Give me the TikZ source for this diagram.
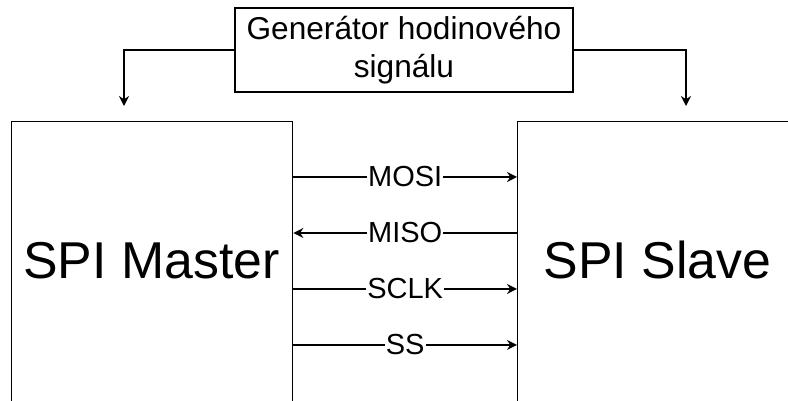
\documentclass[tikz,border=0pt]{standalone}
\usepackage{fontspec}
\setmainfont{Liberation Sans}
\usetikzlibrary{arrows.meta,positioning}
\tikzstyle{block}=[draw,rectangle,line width=.8pt,inner sep=0pt]
\tikzstyle{sig}=[line width=.8pt]
\tikzstyle{lbl}=[fill=white,inner sep=.6pt,font=\fontsize{16.5}{20}\selectfont]
\tikzstyle{bigtxt}=[font=\fontsize{29.5}{35}\selectfont,anchor=base]

\begin{document}
\begin{tikzpicture}[x=.02cm, y=.02cm, >={Stealth[length=2mm,width=2mm]}]
  \useasboundingbox (0,0) rectangle (788,400);
  \clip (0,0) rectangle (788,400);
  \node[block, minimum width=6.76cm, minimum height=1.68cm, align=center,
  font=\fontsize{18}{21.5}\selectfont] (gen) at (404,350)
  {Generátor hodinového\\signálu};
  \node[block, anchor=north west, minimum width=5.62cm, minimum height=6cm]
  (master) at (11,279) {};
  \node[block, anchor=north west, minimum width=5.62cm, minimum height=6cm]
  (slave) at (517,279) {};
  \node[bigtxt] (mtxt) at (151.5,122) {SPI Master};
  \node[bigtxt] (stxt) at (657.5,122) {SPI Slave};
  \coordinate (mclk) at (124,294);
  \coordinate (sclk) at (686,294);
  \draw[sig,->] (gen.west) -| (mclk);
  \draw[sig,->] (gen.east) -| (sclk);
  \foreach \lab/\dir [count=\i] in {MOSI/->,MISO/<-,SCLK/->,SS/->}
    \draw[sig,\dir] ([yshift=-\i*1.12cm]master.north east) -- node[lbl] {\lab}
    ([yshift=-\i*1.12cm]slave.north west);
\end{tikzpicture}
\end{document}
